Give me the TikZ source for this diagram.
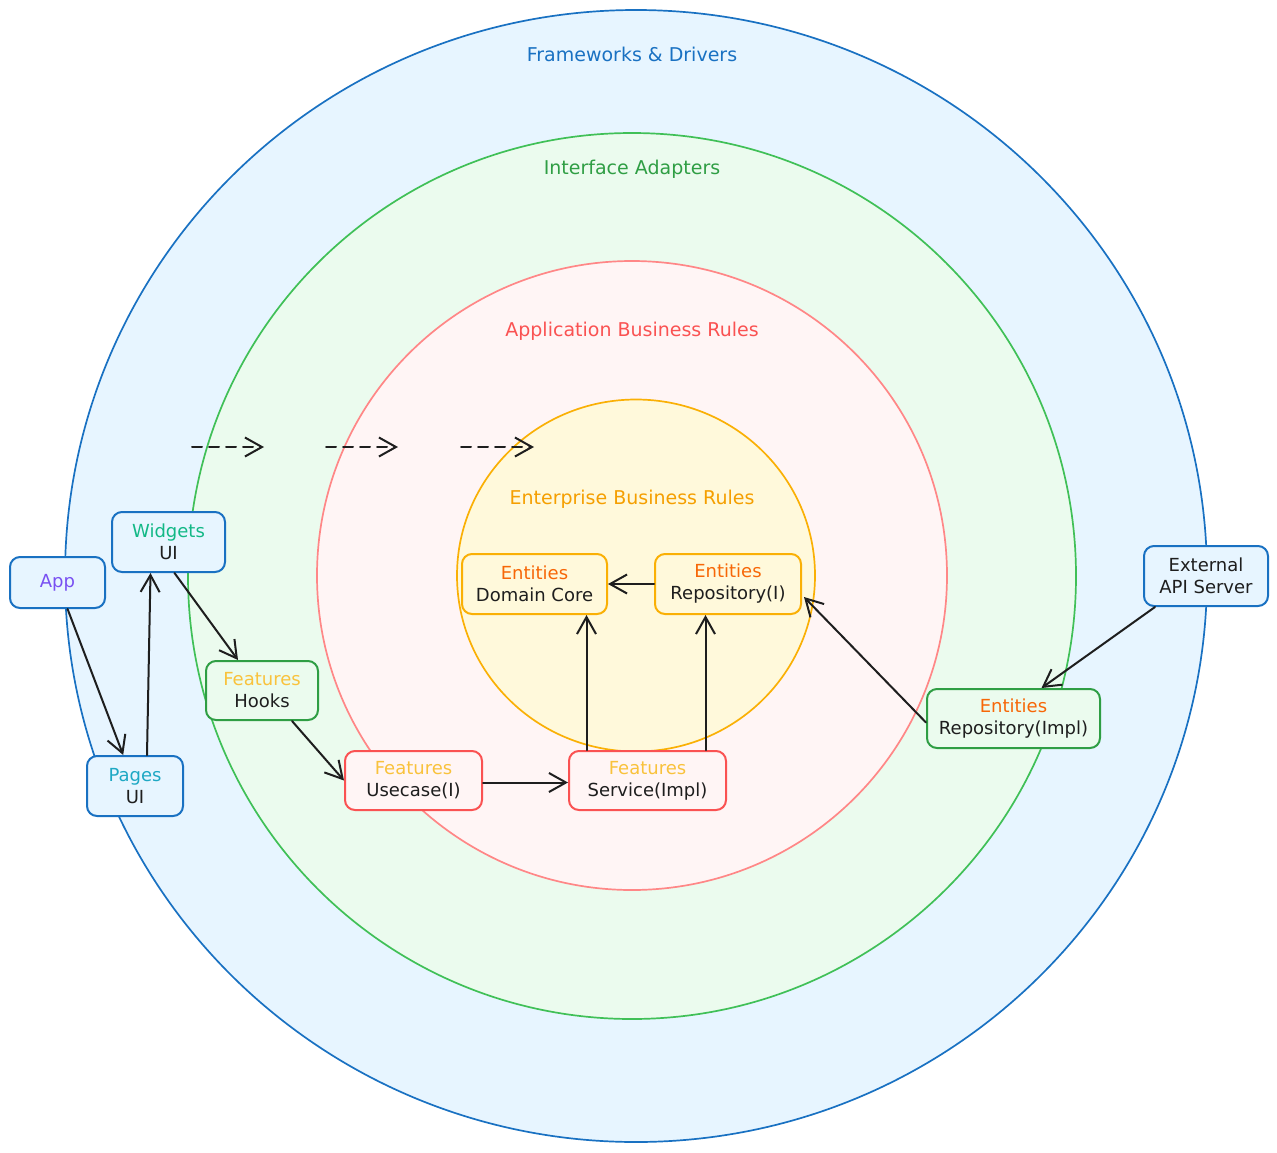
\documentclass[tikz,border=0pt]{standalone}
\usepackage{fontspec}
\setmainfont{DejaVu Sans}
\usetikzlibrary{arrows.meta}
\definecolor{cblue}{HTML}{1971C2}
\definecolor{cbluefill}{HTML}{E7F5FF}
\definecolor{cgreen}{HTML}{2F9E44}
\definecolor{cgreencirc}{HTML}{40C057}
\definecolor{cgreenfill}{HTML}{EBFBEE}
\definecolor{cred}{HTML}{FA5252}
\definecolor{credcirc}{HTML}{FF8787}
\definecolor{credfill}{HTML}{FFF5F5}
\definecolor{cyel}{HTML}{FAB005}
\definecolor{cyelfill}{HTML}{FFF9DB}
\definecolor{cyeltitle}{HTML}{F59F00}
\definecolor{cent}{HTML}{F76707}
\definecolor{cfeat}{HTML}{F9C23C}
\definecolor{cwid}{HTML}{12B886}
\definecolor{cpage}{HTML}{1EA8C4}
\definecolor{capp}{HTML}{7950F2}
\definecolor{cdark}{HTML}{1E1E1E}
\tikzset{
  box/.style={rounded corners=10pt, line width=2pt, align=center, inner sep=0pt,
    font=\fontsize{18}{22}\selectfont, text=cdark},
  bluebox/.style={box, draw=cblue, fill=cbluefill},
  greenbox/.style={box, draw=cgreen, fill=cgreenfill},
  redbox/.style={box, draw=cred, fill=credfill},
  yelbox/.style={box, draw=cyel, fill=cyelfill},
  title/.style={font=\fontsize{19}{22}\selectfont, inner sep=0pt},
  conn/.style={line width=2pt, draw=cdark, line cap=round,
    -{Straight Barb[length=17pt,width=19pt]}},
  dconn/.style={conn, dash pattern=on 10pt off 7pt},
  ring/.style={line width=1.7pt}
}
\begin{document}
\begin{tikzpicture}[x=1pt,y=-1pt]
\useasboundingbox (0,0) rectangle (1277,1152);
% rings
\draw[ring, draw=cblue, fill=cbluefill] (636,576) ellipse [x radius=571, y radius=566];
\draw[ring, draw=cgreencirc, fill=cgreenfill] (632,576) ellipse [x radius=444, y radius=443];
\draw[ring, draw=credcirc, fill=credfill] (632,575.5) ellipse [x radius=315, y radius=314.5];
\draw[ring, draw=cyel, fill=cyelfill] (636,575.5) ellipse [x radius=179, y radius=176];
% titles
\node[title, text=cblue] (t1) at (632,54) {Frameworks \& Drivers};
\node[title, text=cgreen] (t2) at (632,169) {Interface Adapters};
\node[title, text=cred] (t3) at (632,331) {Application Business Rules};
\node[title, text=cyeltitle] (t4) at (632,499) {Enterprise Business Rules};
% nodes
\node[bluebox, minimum width=95pt, minimum height=51pt] (app) at (57.5,582.5) {\textcolor{capp}{App}};
\node[bluebox, minimum width=113pt, minimum height=60pt] (widgets) at (168.5,542) {\textcolor{cwid}{Widgets}\\UI};
\node[bluebox, minimum width=96pt, minimum height=60pt] (pages) at (135,786) {\textcolor{cpage}{Pages}\\UI};
\node[greenbox, minimum width=112pt, minimum height=59pt] (hooks) at (262,690.5) {\textcolor{cfeat}{Features}\\Hooks};
\node[redbox, minimum width=137pt, minimum height=59pt] (usecase) at (413.5,780.5) {\textcolor{cfeat}{Features}\\Usecase(I)};
\node[redbox, minimum width=157pt, minimum height=59pt] (service) at (647.5,780.5) {\textcolor{cfeat}{Features}\\Service(Impl)};
\node[yelbox, minimum width=145pt, minimum height=60pt] (core) at (534.5,584) {\textcolor{cent}{Entities}\\Domain Core};
\node[yelbox, minimum width=146pt, minimum height=60pt] (repoi) at (728,584) {\textcolor{cent}{Entities}\\Repository(I)};
\node[greenbox, minimum width=173pt, minimum height=59pt] (repoimpl) at (1013.5,718.5) {\textcolor{cent}{Entities}\\Repository(Impl)};
\node[bluebox, minimum width=124pt, minimum height=60pt] (ext) at (1206,576) {External\\API Server};
% connectors
\draw[conn] (app) -- (pages);
\draw[conn] ([xshift=12pt]pages.north) -- ([xshift=-18pt]widgets.south);
\draw[conn] ([xshift=6pt]widgets.south) -- ([xshift=-24pt]hooks.north);
\draw[conn] ([xshift=30pt]hooks.south) -- (usecase.west);
\draw[conn] ([yshift=-2pt]usecase.east) -- ([yshift=-2pt]service.west);
\draw[conn] ([xshift=-61pt]service.north) -- ([xshift=-61pt]service.north |- core.south);
\draw[conn] ([xshift=58pt]service.north) -- ([xshift=58pt]service.north |- repoi.south);
\draw[conn] (repoi.west) -- (core.east);
\draw[conn] ([yshift=-4pt]repoimpl.west) -- ([yshift=-13pt,xshift=2pt]repoi.east);
\draw[conn] ([xshift=-51pt]ext.south) -- ([xshift=28pt]repoimpl.north);
% dashed direction arrows
\coordinate (d1a) at (192,447);
\coordinate (d1b) at (264,447);
\coordinate (d2a) at (326,447);
\coordinate (d2b) at (398,447);
\coordinate (d3a) at (461,447);
\coordinate (d3b) at (534,447);
\draw[dconn] (d1a) -- (d1b);
\draw[dconn] (d2a) -- (d2b);
\draw[dconn] (d3a) -- (d3b);
\end{tikzpicture}
\end{document}
